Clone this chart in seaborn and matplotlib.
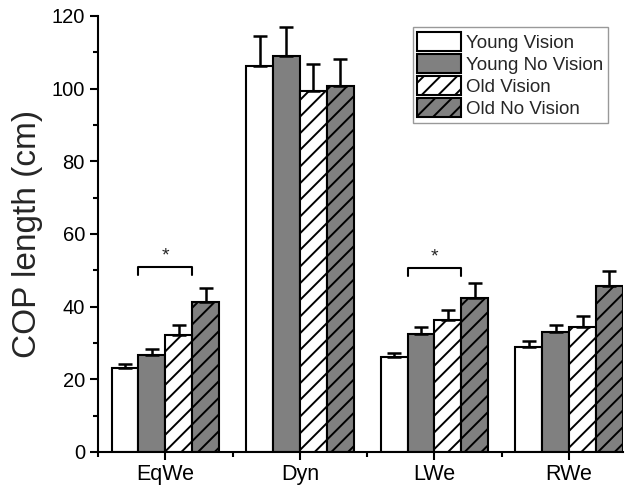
import numpy as np
import pandas as pd
import seaborn as sns
import matplotlib
matplotlib.use("Agg")
import matplotlib.pyplot as plt
from matplotlib.ticker import FixedLocator, MultipleLocator

# values
tasks = ["EqWe", "Dyn", "LWe", "RWe"]
conditions = ["Young Vision", "Young No Vision", "Old Vision", "Old No Vision"]
young_vision = [23.2, 106.1, 26.2, 28.9]
young_no_vision = [26.6, 109.0, 32.6, 32.9]
old_vision = [32.3, 99.4, 36.2, 34.5]
old_no_vision = [41.4, 100.8, 42.4, 45.6]
young_vision_err = [0.9, 8.4, 1.1, 1.7]
young_no_vision_err = [1.6, 7.9, 1.9, 2.1]
old_vision_err = [2.7, 7.4, 2.9, 2.9]
old_no_vision_err = [3.8, 7.2, 4.1, 4.2]

# significance brackets: (task, y of bracket top)
sig_tasks = ["EqWe", "LWe"]
sig_heights = [51.0, 50.7]

colors = ["white", "gray", "white", "gray"]
hatches = ["", "", "//", "//"]


def build_frame():
    rows = []
    series = [young_vision, young_no_vision, old_vision, old_no_vision]
    errs = [young_vision_err, young_no_vision_err, old_vision_err, old_no_vision_err]
    for cond, vals, ers in zip(conditions, series, errs):
        for task, v, e in zip(tasks, vals, ers):
            rows.append({"task": task, "condition": cond, "length": v, "err": e})
    return pd.DataFrame(rows)


def main():
    sns.set_style("ticks")
    plt.rcParams["font.family"] = ["Liberation Sans", "DejaVu Sans"]
    plt.rcParams["hatch.linewidth"] = 1.4

    df = build_frame()

    fig = plt.figure(figsize=(6.33, 4.9), dpi=100)
    ax = fig.add_axes([0.155, 0.0776, 0.829, 0.890])

    sns.barplot(data=df, x="task", y="length", hue="condition",
                order=tasks, hue_order=conditions, palette=colors,
                edgecolor="black", linewidth=1.5, errorbar=None,
                width=0.8, legend=False, ax=ax)

    # style each hue group and draw upward-only error bars
    for cont, cond, hatch in zip(ax.containers, conditions, hatches):
        sub = df[df["condition"] == cond].set_index("task").loc[tasks]
        xs = []
        for bar in cont:
            bar.set_hatch(hatch)
            bar.set_edgecolor("black")
            xs.append(bar.get_x() + bar.get_width() / 2)
        ax.errorbar(xs, sub["length"].values,
                    yerr=[np.zeros(len(xs)), sub["err"].values],
                    fmt="none", ecolor="black", elinewidth=1.8,
                    capsize=5, capthick=1.8, zorder=1)

    # significance brackets
    for task, h in zip(sig_tasks, sig_heights):
        c = tasks.index(task)
        ax.plot([c - 0.2, c - 0.2, c + 0.2, c + 0.2],
                [h - 2.4, h, h, h - 2.4], color="black", lw=1.5)
        ax.text(c, h + 0.6, "*", ha="center", va="bottom", fontsize=14)

    ax.set_xlim(-0.5, 3.4)
    ax.set_ylim(0, 120)
    ax.yaxis.set_major_locator(MultipleLocator(20))
    ax.yaxis.set_minor_locator(MultipleLocator(10))
    ax.xaxis.set_minor_locator(FixedLocator([-0.5, 0.5, 1.5, 2.5]))
    ax.tick_params(axis="both", which="major", direction="out", length=6,
                   width=1.5, colors="black")
    ax.tick_params(axis="both", which="minor", direction="out", length=3.5,
                   width=1.5, colors="black")
    ax.tick_params(axis="y", labelsize=14.5)
    ax.tick_params(axis="x", labelsize=15.5, pad=3)
    for side in ["left", "bottom"]:
        ax.spines[side].set_linewidth(1.5)
        ax.spines[side].set_color("black")
    sns.despine(ax=ax)

    ax.set_xlabel("")
    ax.set_ylabel("COP length (cm)", fontsize=24, labelpad=6)

    handles = [plt.Rectangle((0, 0), 1, 1, facecolor=c, edgecolor="black",
                             linewidth=1.5, hatch=h)
               for c, h in zip(colors, hatches)]
    leg = ax.legend(handles, conditions, loc="upper left",
                    bbox_to_anchor=(0.652, 0.945), bbox_transform=fig.transFigure,
                    borderaxespad=0, fontsize=13.5, frameon=True, fancybox=False,
                    handlelength=2.3, handleheight=1.2, labelspacing=0.12,
                    handletextpad=0.3, borderpad=0.25)
    leg.get_frame().set_edgecolor("gray")
    leg.get_frame().set_linewidth(1.0)

    fig.savefig("out.png", dpi=100)


if __name__ == "__main__":
    main()
